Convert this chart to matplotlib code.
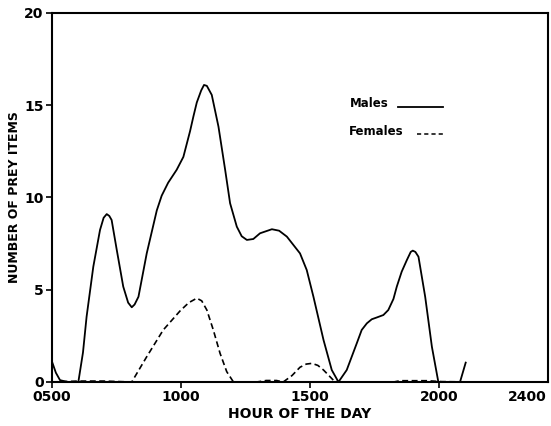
import matplotlib
matplotlib.use("Agg")
import matplotlib.pyplot as plt
from matplotlib.lines import Line2D
from matplotlib.transforms import ScaledTranslation

plt.rcParams['font.family'] = ['DejaVu Sans']
plt.rcParams['lines.scale_dashes'] = False

# Hour of day (decimal hours) and number of prey items
males_hours = [5.0, 5.15, 5.31, 5.6, 6.02, 6.2, 6.34, 6.6, 6.86, 7.0, 7.12, 7.22, 7.31, 7.51,
               7.76, 7.95, 8.09, 8.2, 8.35, 8.67, 9.06, 9.25, 9.5, 9.83, 10.09, 10.35, 10.48,
               10.61, 10.78, 10.89, 11.0, 11.19, 11.45, 11.71, 11.9, 12.16, 12.35, 12.55,
               12.8, 13.06, 13.52, 13.8, 14.1, 14.61, 14.87, 15.13, 15.52, 15.84, 16.1, 16.42,
               16.81, 17.0, 17.2, 17.39, 17.59, 17.84, 18.03, 18.23, 18.36, 18.55, 18.75,
               18.9, 18.98, 19.08, 19.2, 19.46, 19.72, 19.97, 20.4, 20.81, 21.03]
males_counts = [1.1, 0.5, 0.1, 0.0, 0.0, 1.6, 3.54, 6.25, 8.24, 8.9, 9.1, 9.0, 8.78, 7.15,
                5.17, 4.3, 4.05, 4.2, 4.62, 6.97, 9.3, 10.1, 10.8, 11.5, 12.2, 13.6, 14.4,
                15.15, 15.8, 16.1, 16.05, 15.56, 13.84, 11.49, 9.69, 8.42, 7.9, 7.7,
                7.75, 8.06, 8.28, 8.2, 7.88, 6.97, 6.07, 4.62, 2.28, 0.65, 0.0, 0.65,
                2.1, 2.82, 3.18, 3.4, 3.5, 3.63, 3.9, 4.5, 5.17, 5.98, 6.61,
                7.05, 7.12, 7.05, 6.79, 4.62, 1.91, 0.0, 0.0, 0.0, 1.05]

females_hours = [5.0, 6.0, 7.0, 8.09, 8.67, 9.31, 9.96, 10.3, 10.61, 10.8, 11.0, 11.25, 11.51,
                 11.77, 12.03, 12.93, 13.3, 13.7, 13.96, 14.3, 14.61, 14.85, 15.07, 15.3,
                 15.52, 15.9, 16.1, 16.81, 17.59, 18.1, 18.49, 19.52, 20.1, 21.33]
females_counts = [0.0, 0.05, 0.05, 0.0, 1.37, 2.82, 3.85, 4.3, 4.54, 4.4, 3.9, 2.82, 1.56,
                  0.56, 0.0, 0.0, 0.08, 0.08, 0.0, 0.35, 0.8, 0.97, 1.01, 0.9,
                  0.65, 0.1, 0.0, -0.1, -0.1, -0.04, 0.07, 0.07, 0.02, 0.0]

x_ticks = [5, 10, 15, 20, 24]
x_ticklabels = ['0500', '1000', '1500', '2000', '2400']
y_ticks = [0, 5, 10, 15, 20]
y_ticklabels = ['0', '5', '10', '15', '20']

fig = plt.figure(figsize=(5.51, 4.26), dpi=100)
ax = fig.add_axes([0.0944, 0.1033, 0.9002, 0.8662])

ax.plot(males_hours, males_counts, color='black', lw=1.3, solid_joinstyle='round')
ax.plot(females_hours, females_counts, color='black', lw=1.2, linestyle=(0, (4.3, 2.5)))

ax.set_xlim(5, 24.22)
ax.set_ylim(0, 20)
ax.set_xticks(x_ticks)
ax.set_xticklabels(x_ticklabels, fontsize=10, fontweight='bold')
ax.set_yticks(y_ticks)
ax.set_yticklabels(y_ticklabels, fontsize=10, fontweight='bold')
ax.tick_params(axis='both', direction='out', length=4, width=1.2, pad=2)
ax.xaxis.get_major_ticks()[-1].tick1line.set_visible(False)
last = ax.get_xticklabels()[-1]
last.set_horizontalalignment('right')
last.set_transform(last.get_transform() + ScaledTranslation(4 / 100, 0, fig.dpi_scale_trans))
for s in ax.spines.values():
    s.set_linewidth(1.5)

ax.set_xlabel('HOUR OF THE DAY', fontsize=10, fontweight='bold', labelpad=2)
ax.set_ylabel('NUMBER OF PREY ITEMS', fontsize=9, fontweight='bold')
ax.yaxis.set_label_coords(-0.063, 0.5)

# Legend (hand drawn as in the original)
ax.text(0.601, 0.756, 'Males', transform=ax.transAxes, fontsize=8.5, fontweight='bold',
        va='center', ha='left')
ax.add_line(Line2D([0.698, 0.788], [0.745, 0.745], transform=ax.transAxes,
                   color='black', lw=1.3))
ax.text(0.599, 0.678, 'Females', transform=ax.transAxes, fontsize=8.5, fontweight='bold',
        va='center', ha='left')
ax.add_line(Line2D([0.736, 0.792], [0.672, 0.672], transform=ax.transAxes,
                   color='black', lw=1.1, linestyle=(0, (3, 2.2))))

fig.savefig('out.png', dpi=100)
